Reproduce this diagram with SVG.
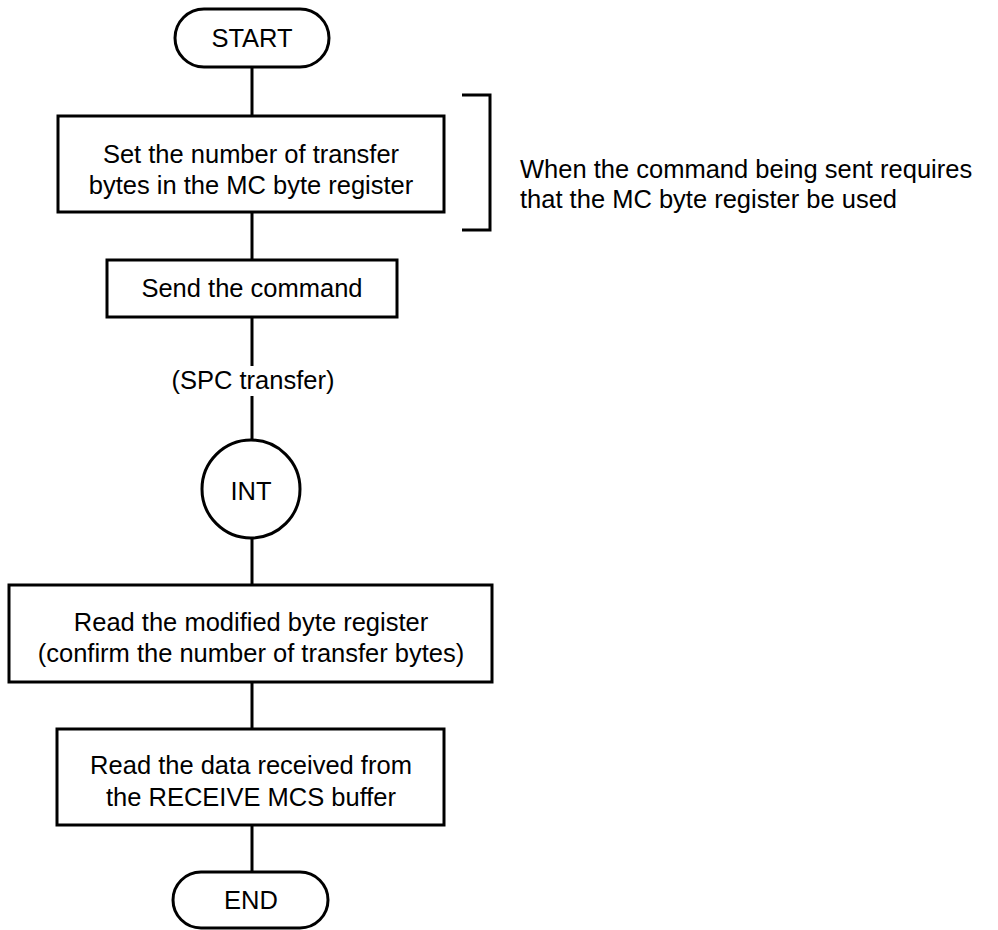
<svg xmlns="http://www.w3.org/2000/svg" width="998" height="930" viewBox="0 0 998 930">
<style>
  .shape { fill: #fff; stroke: #000; stroke-width: 3; }
  .conn { fill: none; stroke: #000; stroke-width: 3; }
  text { font-family: "Liberation Sans", Arial, sans-serif; font-size: 25.5px; fill: #000; }
  .c { text-anchor: middle; }
</style>
<rect width="998" height="930" fill="#fff"/>
<g id="connectors">
  <line class="conn" x1="252" y1="67" x2="252" y2="116"/>
  <line class="conn" x1="252" y1="212" x2="252" y2="260"/>
  <line class="conn" x1="252" y1="317" x2="252" y2="366"/>
  <line class="conn" x1="252" y1="396" x2="252" y2="440"/>
  <line class="conn" x1="252" y1="538" x2="252" y2="585"/>
  <line class="conn" x1="252" y1="682" x2="252" y2="729"/>
  <line class="conn" x1="252" y1="825" x2="252" y2="872"/>
</g>
<g id="start">
  <rect class="shape" x="175" y="9" width="154" height="58" rx="29" ry="29"/>
  <text class="c" x="252" y="47">START</text>
</g>
<g id="set-bytes">
  <rect class="shape" x="58" y="116" width="386" height="96"/>
  <text class="c" x="251" y="163">Set the number of transfer</text>
  <text class="c" x="251" y="194">bytes in the MC byte register</text>
</g>
<g id="bracket-note">
  <path class="conn" d="M462,95 H490 V230 H462"/>
  <text x="520" y="178">When the command being sent requires</text>
  <text x="520" y="208">that the MC byte register be used</text>
</g>
<g id="send-command">
  <rect class="shape" x="107" y="260" width="290" height="57"/>
  <text class="c" x="252" y="297">Send the command</text>
</g>
<g id="spc-label">
  <text class="c" x="253" y="389">(SPC transfer)</text>
</g>
<g id="int">
  <circle class="shape" cx="251" cy="489" r="49"/>
  <text class="c" x="251" y="500">INT</text>
</g>
<g id="read-modified">
  <rect class="shape" x="9" y="585" width="483" height="97"/>
  <text class="c" x="251" y="631">Read the modified byte register</text>
  <text class="c" x="251" y="662">(confirm the number of transfer bytes)</text>
</g>
<g id="read-data">
  <rect class="shape" x="57" y="729" width="387" height="96"/>
  <text class="c" x="251" y="774">Read the data received from</text>
  <text class="c" x="251" y="806">the RECEIVE MCS buffer</text>
</g>
<g id="end">
  <rect class="shape" x="173" y="872" width="155" height="56" rx="28" ry="28"/>
  <text class="c" x="251" y="909">END</text>
</g>
</svg>
